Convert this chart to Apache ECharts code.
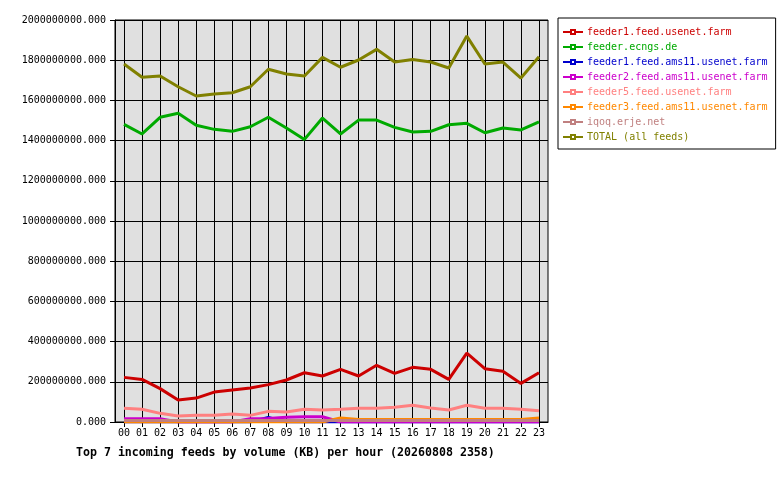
<!DOCTYPE html>
<html>
<head>
<meta charset="utf-8">
<script src="https://cdn.jsdelivr.net/npm/echarts@6/dist/echarts.min.js"></script>
<style>
  html, body { margin: 0; padding: 0; background: #fff; }
  #chart { width: 780px; height: 480px; }
</style>
</head>
<body>
<div id="chart"></div>
<script>
// hours along the x axis
const hours = ['00', '01', '02', '03', '04', '05', '06', '07', '08', '09', '10', '11',
    '12', '13', '14', '15', '16', '17', '18', '19', '20', '21', '22', '23'];

// KB per hour
const feeder1Usenet = [222e6, 212e6, 166e6, 109e6, 119e6, 149e6, 159e6, 169e6, 186e6, 209e6, 245e6, 229e6,
    262e6, 229e6, 282e6, 242e6, 272e6, 262e6, 212e6, 343e6, 265e6, 252e6, 192e6, 245e6];
const feederEcngs = [1481e6, 1433e6, 1516e6, 1536e6, 1476e6, 1456e6, 1446e6, 1469e6, 1516e6, 1463e6, 1406e6, 1512e6,
    1433e6, 1502e6, 1502e6, 1466e6, 1443e6, 1446e6, 1479e6, 1486e6, 1439e6, 1463e6, 1453e6, 1493e6];
const feeder1Ams11 = [0, 0, 0, 0, 0, 0, 0, 0, 22e6, 0, 0, 0,
    0, 0, 0, 0, 0, 0, 0, 0, 0, 0, 0, 0];
const feeder2Ams11 = [16e6, 16e6, 16e6, 0, 0, 0, 0, 16e6, 18e6, 24e6, 26e6, 26e6,
    0, 0, 0, 0, 0, 0, 0, 0, 0, 0, 0, 0];
const feeder5Usenet = [68e6, 63e6, 43e6, 30e6, 33e6, 33e6, 40e6, 33e6, 53e6, 50e6, 63e6, 60e6,
    63e6, 68e6, 68e6, 73e6, 83e6, 70e6, 60e6, 83e6, 68e6, 68e6, 63e6, 56e6];
const feeder3Ams11 = [0, 0, 0, 0, 0, 0, 0, 0, 0, 0, 0, 0,
    20e6, 13e6, 13e6, 13e6, 13e6, 13e6, 13e6, 13e6, 13e6, 13e6, 13e6, 20e6];
const iqoqErje = [7e6, 7e6, 7e6, 7e6, 7e6, 7e6, 7e6, 7e6, 7e6, 7e6, 7e6, 7e6,
    7e6, 7e6, 7e6, 7e6, 7e6, 7e6, 7e6, 7e6, 7e6, 7e6, 7e6, 7e6];
const totalAll = [1781e6, 1715e6, 1721e6, 1668e6, 1622e6, 1632e6, 1638e6, 1668e6, 1755e6, 1731e6, 1721e6, 1814e6,
    1765e6, 1801e6, 1854e6, 1791e6, 1804e6, 1791e6, 1761e6, 1920e6, 1781e6, 1791e6, 1711e6, 1817e6];

const feeds = [
    {name: 'feeder1.feed.usenet.farm', color: '#cc0000', data: feeder1Usenet},
    {name: 'feeder.ecngs.de', color: '#00aa00', data: feederEcngs},
    {name: 'feeder1.feed.ams11.usenet.farm', color: '#0000cc', data: feeder1Ams11},
    {name: 'feeder2.feed.ams11.usenet.farm', color: '#cc00cc', data: feeder2Ams11},
    {name: 'feeder5.feed.usenet.farm', color: '#ff8080', data: feeder5Usenet},
    {name: 'feeder3.feed.ams11.usenet.farm', color: '#ff8800', data: feeder3Ams11},
    {name: 'iqoq.erje.net', color: '#c08080', data: iqoqErje},
    {name: 'TOTAL (all feeds)', color: '#808000', data: totalAll}
];

const mono = 'DejaVu Sans Mono';
const chart = echarts.init(document.getElementById('chart'));

chart.setOption({
    animation: false,
    title: {
        text: 'Top 7 incoming feeds by volume (KB) per hour (20260808 2358)',
        left: 71, top: 442,
        textStyle: {fontFamily: mono, fontSize: 11.6, fontWeight: 'bold', color: '#000'}
    },
    legend: {
        orient: 'vertical',
        left: 558, top: 18,
        width: 205,
        padding: [9, 8, 7, 4],
        itemGap: 5,
        itemWidth: 20, itemHeight: 5,
        backgroundColor: '#fff',
        borderColor: '#000', borderWidth: 1, borderRadius: 0,
        textStyle: {fontFamily: mono, fontSize: 10, padding: [0, 0, 0, -1]},
        data: feeds.map(f => ({name: f.name, textStyle: {color: f.color}}))
    },
    grid: {
        left: 115, right: 232, top: 20, bottom: 58,
        show: true, backgroundColor: '#e0e0e0',
        borderColor: '#000', borderWidth: 1
    },
    xAxis: {
        type: 'category',
        data: hours,
        boundaryGap: true,
        axisLine: {lineStyle: {color: '#000'}},
        axisTick: {show: true, alignWithLabel: true, length: 5, lineStyle: {color: '#000'}},
        splitLine: {show: true, alignWithLabel: true, lineStyle: {color: '#000', width: 1}},
        axisLabel: {fontFamily: mono, fontSize: 10, color: '#000', margin: 6, interval: 0}
    },
    yAxis: {
        type: 'value',
        min: 0, max: 2000000000, interval: 200000000,
        axisLine: {show: true, lineStyle: {color: '#000'}},
        axisTick: {show: true, length: 5, lineStyle: {color: '#000'}},
        splitLine: {show: true, lineStyle: {color: '#000', width: 1}},
        axisLabel: {
            fontFamily: mono, fontSize: 10, color: '#000', margin: 9,
            formatter: v => v.toFixed(3)
        }
    },
    series: feeds.map(f => ({
        name: f.name,
        type: 'line',
        data: f.data,
        color: f.color,
        symbol: 'emptyRect',
        symbolSize: 4,
        showSymbol: false,
        lineStyle: {width: 3, color: f.color},
        emphasis: {disabled: true}
    }))
});
</script>
</body>
</html>
